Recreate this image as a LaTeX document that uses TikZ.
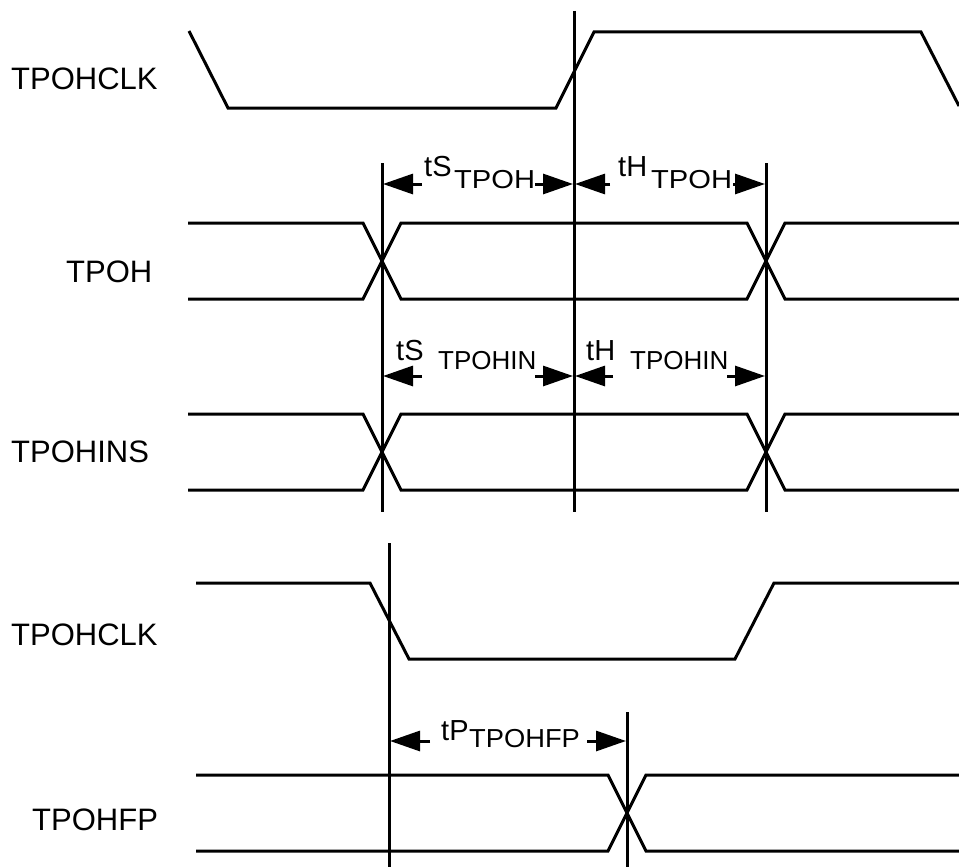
\documentclass[tikz,border=0pt]{standalone}
\usepackage{fontspec}
\setmainfont{Liberation Sans}
\usetikzlibrary{arrows.meta}
\begin{document}
\begin{tikzpicture}[x=1pt,y=-1pt,
  sig/.style={line width=3pt, line join=miter},
  vline/.style={line width=3pt},
  dimarrow/.style={line width=3pt, -{Triangle[length=30pt,width=20pt]}},
  signame/.style={anchor=base west, inner sep=0pt, font=\fontsize{31}{36}\selectfont},
  lab/.style={anchor=base west, inner sep=0pt, font=\fontsize{29}{33}\selectfont},
  sub/.style={anchor=base west, inner sep=0pt, font=\fontsize{26}{30}\selectfont}]
\useasboundingbox (0,0) rectangle (959,867);

% signal names
\node[signame] (n1) at (11,89) {TPOHCLK};
\node[signame] (n2) at (66,282) {TPOH};
\node[signame] (n3) at (11,462) {TPOHINS};
\node[signame] (n4) at (11,645) {TPOHCLK};
\node[signame] (n5) at (32,830) {TPOHFP};

% top clock
\draw[sig] (189,31) -- (228,108) -- (556,108) -- (594,32) -- (921,32) -- (959,106);

% TPOH
\draw[sig] (188,223) -- (363,223) -- (401,299) -- (747,299) -- (785,223) -- (959,223);
\draw[sig] (188,299) -- (363,299) -- (401,223) -- (747,223) -- (785,299) -- (959,299);

% TPOHINS
\draw[sig] (188,414) -- (363,414) -- (401,490) -- (747,490) -- (785,414) -- (959,414);
\draw[sig] (188,490) -- (363,490) -- (401,414) -- (747,414) -- (785,490) -- (959,490);

% bottom clock
\draw[sig] (196,583) -- (370,583) -- (409,659) -- (735,659) -- (774,583) -- (959,583);

% TPOHFP
\draw[sig] (196,775) -- (608,775) -- (646,851) -- (959,851);
\draw[sig] (196,851) -- (608,851) -- (646,775) -- (959,775);

% vertical reference lines
\coordinate (vAt) at (382,163); \coordinate (vAb) at (382,512);
\coordinate (vBt) at (574,11);  \coordinate (vBb) at (574,512);
\coordinate (vCt) at (766,163); \coordinate (vCb) at (766,512);
\coordinate (vDt) at (389,543); \coordinate (vDb) at (389,867);
\coordinate (vEt) at (627,712); \coordinate (vEb) at (627,867);
\draw[vline] (vAt) -- (vAb);
\draw[vline] (vBt) -- (vBb);
\draw[vline] (vCt) -- (vCb);
\draw[vline] (vDt) -- (vDb);
\draw[vline] (vEt) -- (vEb);

% tS TPOH
\node[lab] (ts1) at (424,176) {tS};
\node[sub] (ts1s) at (454,188) {\scalebox{1.12}[1]{TPOH}};
\draw[dimarrow] (422,184) -- (383,184);
\draw[dimarrow] (535,184) -- (573,184);
% tH TPOH
\node[lab] (th1) at (618,176) {tH};
\node[sub] (th1s) at (651,188) {\scalebox{1.12}[1]{TPOH}};
\draw[dimarrow] (610,184) -- (575,184);
\draw[dimarrow] (733,184) -- (765,184);

% tS TPOHIN
\node[lab] (ts2) at (396,360) {tS};
\node[sub] (ts2s) at (438,369) {TPOHIN};
\draw[dimarrow] (422,376) -- (383,376);
\draw[dimarrow] (535,376) -- (573,376);
% tH TPOHIN
\node[lab] (th2) at (586,360) {tH};
\node[sub] (th2s) at (630,369) {TPOHIN};
\draw[dimarrow] (613,376) -- (575,376);
\draw[dimarrow] (727,376) -- (765,376);

% tP TPOHFP
\node[lab] (tp) at (441,740) {tP};
\node[sub] (tps) at (469,747) {\scalebox{1.05}[1]{TPOHFP}};
\draw[dimarrow] (430,741) -- (390,741);
\draw[dimarrow] (587,741) -- (626,741);
\end{tikzpicture}
\end{document}
